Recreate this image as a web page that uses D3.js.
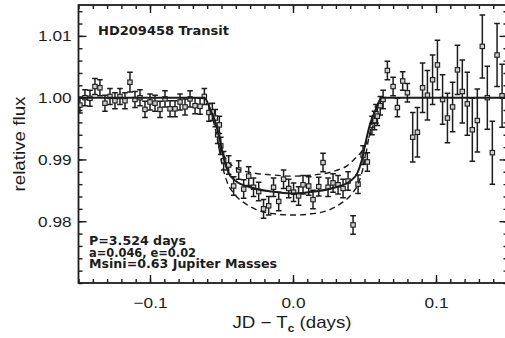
<!DOCTYPE html>
<html>
<head>
<meta charset="utf-8">
<script src="https://cdn.jsdelivr.net/npm/d3@7"></script>
<style>
  html, body { margin: 0; padding: 0; background: #fff; }
  svg { display: block; }
</style>
</head>
<body>
<svg id="chart" width="505" height="338"></svg>
<script>
// Observed light curve: time from mid-transit (days), relative flux, 1-sigma error
const times = [
  -0.1490, -0.1455, -0.1420, -0.1385, -0.1350, -0.1315, -0.1280, -0.1245, -0.1210, -0.1175,
  -0.1140, -0.1105, -0.1070, -0.1035, -0.1000, -0.0965, -0.0930, -0.0895, -0.0860, -0.0825,
  -0.0790, -0.0755, -0.0720, -0.0685, -0.0650, -0.0620,
  -0.0588, -0.0564, -0.0543, -0.0527, -0.0515, -0.0505, -0.0485, -0.0450, -0.0415, -0.0380,
  -0.0345, -0.0310, -0.0276, -0.0240, -0.0206, -0.0170, -0.0136, -0.0100, -0.0066, -0.0030,
   0.0004,  0.0039,  0.0070,  0.0110,  0.0140,  0.0180,  0.0210,  0.0245,  0.0280,  0.0315,
   0.0350,  0.0385,  0.0420,  0.0455,  0.0490,  0.0520,  0.0552,  0.0570,  0.0580,  0.0590,
   0.0610,  0.0630,
   0.0660,  0.0700,  0.0730,  0.0767,  0.0800,  0.0837,  0.0870,  0.0906,  0.0940,  0.0976,
   0.1010,  0.1046,  0.1080,  0.1116,  0.1150,  0.1184,  0.1219,  0.1254,  0.1289,  0.1324,
   0.1359,  0.1394,  0.1427,  0.1462
];
const flux = [
  0.9988, 1.0000, 0.9999, 1.0018, 1.0016, 0.9991, 1.0002, 0.9995, 1.0002, 0.9995,
  1.0025, 0.9997, 1.0000, 0.9981, 0.9993, 0.9991, 0.9981, 0.9998, 0.9982, 0.9982,
  0.9993, 0.9985, 0.9998, 0.9987, 0.9986, 1.0002,
  0.9976, 0.9977, 0.9967, 0.9940, 0.9956, 0.9922, 0.9898, 0.9891, 0.9857, 0.9883,
  0.9852, 0.9873, 0.9855, 0.9848, 0.9820, 0.9825, 0.9855, 0.9832, 0.9868, 0.9853,
  0.9847, 0.9841, 0.9859, 0.9857, 0.9835, 0.9856, 0.9895, 0.9855, 0.9862, 0.9859,
  0.9853, 0.9865, 0.9794, 0.9860, 0.9907, 0.9896, 0.9955, 0.9963, 0.9974, 0.9970,
  0.9987, 0.9997,
  1.0044, 1.0018, 0.9984, 1.0027, 1.0008, 0.9936, 0.9944, 1.0016, 1.0004, 1.0029,
  1.0053, 0.9997, 0.9967, 0.9985, 1.0045, 1.0010, 0.9990, 0.9948, 0.9963, 1.0083,
  1.0000, 0.9911, 1.0069, 1.0003
];
const fluxErr = [
  0.0013, 0.0013, 0.0013, 0.0013, 0.0013, 0.0013, 0.0013, 0.0013, 0.0013, 0.0013,
  0.0016, 0.0013, 0.0013, 0.0013, 0.0013, 0.0013, 0.0013, 0.0013, 0.0013, 0.0013,
  0.0013, 0.0013, 0.0013, 0.0013, 0.0013, 0.0013,
  0.0014, 0.0014, 0.0014, 0.0014, 0.0014, 0.0014, 0.0015, 0.0015, 0.0015, 0.0015,
  0.0015, 0.0015, 0.0015, 0.0015, 0.0015, 0.0015, 0.0015, 0.0015, 0.0015, 0.0015,
  0.0015, 0.0015, 0.0015, 0.0015, 0.0015, 0.0015, 0.0015, 0.0015, 0.0015, 0.0015,
  0.0015, 0.0015, 0.0015, 0.0015, 0.0015, 0.0015, 0.0015, 0.0015, 0.0015, 0.0015,
  0.0015, 0.0015,
  0.0015, 0.0015, 0.0015, 0.0015, 0.0015, 0.0040, 0.0040, 0.0040, 0.0040, 0.0040,
  0.0040, 0.0040, 0.0040, 0.0040, 0.0040, 0.0051, 0.0051, 0.0051, 0.0051, 0.0051,
  0.0051, 0.0051, 0.0051, 0.0051
];

// Best-fit transit model (solid) and the two bracketing models (dashed)
const modelTimes = [-0.15, -0.062, -0.058, -0.054, -0.051, -0.048, -0.045, -0.040, -0.030, -0.015, 0.0,
                     0.015, 0.030, 0.040, 0.045, 0.048, 0.051, 0.054, 0.058, 0.062, 0.15];
const modelFlux  = [1.0000, 1.0000, 0.9982, 0.9958, 0.9930, 0.9898, 0.9878, 0.9865, 0.9855, 0.9848, 0.9845,
                    0.9848, 0.9855, 0.9865, 0.9878, 0.9898, 0.9930, 0.9958, 0.9982, 1.0000, 1.0000];
const shallowTimes = [-0.052, -0.048, -0.044, -0.038, -0.030, -0.015, 0.0, 0.015, 0.030, 0.038, 0.044, 0.048, 0.052, 0.056];
const shallowFlux  = [0.9925, 0.9905, 0.9893, 0.9884, 0.9879, 0.9875, 0.9873, 0.9875, 0.9882, 0.9890, 0.9903, 0.9913, 0.9930, 0.9955];
const deepTimes = [-0.056, -0.053, -0.050, -0.046, -0.041, -0.033, -0.025, -0.013, 0.0,
                    0.013, 0.025, 0.033, 0.041, 0.046, 0.050, 0.053, 0.056];
const deepFlux  = [0.9965, 0.9935, 0.9896, 0.9863, 0.9844, 0.9828, 0.9818, 0.9812, 0.9810,
                   0.9812, 0.9818, 0.9828, 0.9844, 0.9863, 0.9896, 0.9935, 0.9965];

const xMajor = [-0.1, 0.0, 0.1];
const yMajor = [0.98, 0.99, 1.00, 1.01];

const titleText = "HD209458 Transit";
const paramLines = ["P=3.524 days", "a=0.046, e=0.02", "Msini=0.63 Jupiter Masses"];

const svg = d3.select("#chart");
const ink = "#1c1c1c";
const plotL = 78.5, plotR = 507.5, plotT = 5, plotB = 283;

const x = d3.scaleLinear().domain([-0.15, 0.15]).range([plotL, plotR]);
const y = d3.scaleLinear().domain([0.970, 1.015]).range([plotB, plotT]);

const xMinor = d3.range(-15, 16).map(i => i / 100);
const yMinor = d3.range(0, 23).map(i => +(0.970 + i * 0.002).toFixed(3));

svg.append("clipPath").attr("id", "plot-clip")
  .append("rect").attr("x", plotL).attr("y", plotT).attr("width", plotR - plotL).attr("height", plotB - plotT);

const plot = svg.append("g").attr("clip-path", "url(#plot-clip)");

// error bars
const pts = times.map((t, i) => ({ t, f: flux[i], e: fluxErr[i] }));
const capW = 2.8;
const eb = plot.append("g").attr("stroke", ink).attr("stroke-width", 1.5).attr("fill", "none");
pts.forEach(d => {
  const x0 = x(d.t), y1 = y(d.f + d.e), y2 = y(d.f - d.e);
  eb.append("line").attr("x1", x0).attr("x2", x0).attr("y1", y1).attr("y2", y2);
  eb.append("line").attr("x1", x0 - capW).attr("x2", x0 + capW).attr("y1", y1).attr("y2", y1);
  eb.append("line").attr("x1", x0 - capW).attr("x2", x0 + capW).attr("y1", y2).attr("y2", y2);
});

// square markers
plot.append("g").selectAll("rect").data(pts).join("rect")
  .attr("x", d => x(d.t) - 2.2).attr("y", d => y(d.f) - 2.2)
  .attr("width", 4.4).attr("height", 4.4)
  .attr("fill", "#cfcfcf").attr("stroke", ink).attr("stroke-width", 1.1);

// model curves
const line = d3.line().x(d => x(d[0])).y(d => y(d[1])).curve(d3.curveMonotoneX);
plot.append("path").datum(d3.zip(shallowTimes, shallowFlux)).attr("d", line)
  .attr("fill", "none").attr("stroke", ink).attr("stroke-width", 1.4).attr("stroke-dasharray", "6,4");
plot.append("path").datum(d3.zip(deepTimes, deepFlux)).attr("d", line)
  .attr("fill", "none").attr("stroke", ink).attr("stroke-width", 1.4).attr("stroke-dasharray", "6,4");
plot.append("path").datum(d3.zip(modelTimes, modelFlux)).attr("d", line)
  .attr("fill", "none").attr("stroke", ink).attr("stroke-width", 2);

// axes: ticks pointing inward on all four sides; labels in a wide sans face
const sans = "'Liberation Sans', Arial, sans-serif";
function styleAxis(g) {
  g.select(".domain").remove();
  g.selectAll(".tick line").attr("stroke", ink).attr("stroke-width", 1.4);
  g.selectAll(".tick text").attr("fill", ink).attr("font-family", sans).attr("font-size", 15)
    .attr("transform", "scale(1.15,1)");
}
const fy = d3.format(".2f"), fx = d3.format(".1f");

svg.append("g").attr("transform", `translate(0,${plotB})`)
  .call(d3.axisBottom(x).tickValues(xMinor).tickSize(-4).tickFormat(""))
  .call(styleAxis);
svg.append("g").attr("transform", `translate(0,${plotB})`)
  .call(d3.axisBottom(x).tickValues(xMajor).tickSize(-8).tickPadding(14).tickFormat(fx))
  .call(styleAxis);
svg.append("g").attr("transform", `translate(0,${plotT})`)
  .call(d3.axisTop(x).tickValues(xMinor).tickSize(-4).tickFormat(""))
  .call(styleAxis);
svg.append("g").attr("transform", `translate(0,${plotT})`)
  .call(d3.axisTop(x).tickValues(xMajor).tickSize(-8).tickFormat(""))
  .call(styleAxis);
svg.append("g").attr("transform", `translate(${plotL},0)`)
  .call(d3.axisLeft(y).tickValues(yMinor).tickSize(-4).tickFormat(""))
  .call(styleAxis);
svg.append("g").attr("transform", `translate(${plotL},0)`)
  .call(d3.axisLeft(y).tickValues(yMajor).tickSize(-8).tickPadding(6).tickFormat(fy))
  .call(styleAxis);
svg.append("g").attr("transform", `translate(${plotR},0)`)
  .call(d3.axisRight(y).tickValues(yMinor).tickSize(-4).tickFormat(""))
  .call(styleAxis);
svg.append("g").attr("transform", `translate(${plotR},0)`)
  .call(d3.axisRight(y).tickValues(yMajor).tickSize(-8).tickFormat(""))
  .call(styleAxis);

// frame
svg.append("rect").attr("x", plotL).attr("y", plotT).attr("width", plotR - plotL).attr("height", plotB - plotT)
  .attr("fill", "none").attr("stroke", ink).attr("stroke-width", 1.8);

// axis titles
svg.append("text").attr("transform", `translate(25,144) rotate(-90)`)
  .attr("text-anchor", "middle").attr("font-family", sans).attr("font-size", 16).attr("fill", ink)
  .attr("textLength", 95).attr("lengthAdjust", "spacingAndGlyphs")
  .text("relative flux");
const xt = svg.append("text").attr("transform", `translate(${x(0) - 1},328) scale(1.17,1)`)
  .attr("text-anchor", "middle")
  .attr("font-family", sans).attr("font-size", 16).attr("fill", ink);
xt.append("tspan").text("JD \u2212 T");
xt.append("tspan").attr("dy", 4).attr("font-size", 10).attr("font-weight", "bold").text("c");
xt.append("tspan").attr("dy", -4).text(" (days)");

// annotations
const bold = "'DejaVu Sans', Verdana, sans-serif";
svg.append("text").attr("x", 98).attr("y", 35).attr("font-family", bold).attr("font-weight", "bold")
  .attr("font-size", 13).attr("fill", ink)
  .attr("textLength", 131).attr("lengthAdjust", "spacingAndGlyphs")
  .text(titleText);
const paramWidths = [97, 107, 188];
svg.append("g").selectAll("text").data(paramLines).join("text")
  .attr("x", 89).attr("y", (d, i) => 245 + i * 11.6)
  .attr("font-family", bold).attr("font-weight", "bold").attr("font-size", 12).attr("fill", ink)
  .attr("textLength", (d, i) => paramWidths[i]).attr("lengthAdjust", "spacingAndGlyphs")
  .text(d => d);
</script>
</body>
</html>
